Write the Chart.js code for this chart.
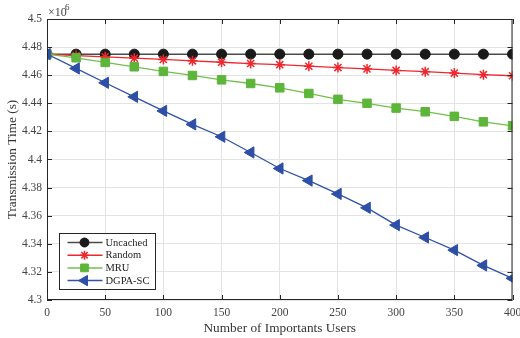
<!DOCTYPE html>
<html>
<head>
<meta charset="utf-8">
<script src="https://cdn.jsdelivr.net/npm/chart.js@4.4.1/dist/chart.umd.min.js"></script>
<style>
  html, body { margin: 0; padding: 0; background: #fff; }
  #wrap { width: 520px; height: 338px; }
</style>
</head>
<body>
<div id="wrap"><canvas id="chart"></canvas></div>
<script>
// data (values in units of 10^6 s)
const users = [0, 25, 50, 75, 100, 125, 150, 175, 200, 225, 250, 275, 300, 325, 350, 375, 400];
const uncached = [4.475, 4.475, 4.475, 4.475, 4.475, 4.475, 4.475, 4.475, 4.475, 4.475, 4.475, 4.475, 4.475, 4.475, 4.475, 4.475, 4.475];
const random = [4.475, 4.4740, 4.4731, 4.4721, 4.4712, 4.4702, 4.4692, 4.4683, 4.4675, 4.4664, 4.4654, 4.4645, 4.4634, 4.4625, 4.4615, 4.4604, 4.4596];
const mru = [4.475, 4.4724, 4.4691, 4.4660, 4.4627, 4.4598, 4.4567, 4.4541, 4.4510, 4.4470, 4.4428, 4.4400, 4.4366, 4.4340, 4.4307, 4.4268, 4.4240];
const dgpa = [4.475, 4.4648, 4.4546, 4.4446, 4.4346, 4.4250, 4.4162, 4.4050, 4.3936, 4.3850, 4.3755, 4.3656, 4.3533, 4.3445, 4.3355, 4.3246, 4.3154];
const xTicks = [0, 50, 100, 150, 200, 250, 300, 350, 400];
const yTicks = [4.3, 4.32, 4.34, 4.36, 4.38, 4.4, 4.42, 4.44, 4.46, 4.48, 4.5];

const serif = '"Liberation Serif", "Times New Roman", serif';

function pts(vals) {
  return users.map((u, i) => ({ x: u, y: vals[i] }));
}

// box, inner ticks, exponent label and legend
const decor = {
  id: 'decor',
  afterDraw(chart) {
    const ctx = chart.ctx;
    const a = chart.chartArea;
    const xs = chart.scales.x, ys = chart.scales.y;
    ctx.save();
    ctx.strokeStyle = '#262626';
    ctx.lineWidth = 1;
    ctx.strokeRect(a.left + 0.5, a.top + 0.5, a.right - a.left - 1, a.bottom - a.top - 1);
    ctx.beginPath();
    xTicks.forEach(t => {
      const px = Math.round(xs.getPixelForValue(t)) + 0.5;
      ctx.moveTo(px, a.bottom); ctx.lineTo(px, a.bottom - 5);
      ctx.moveTo(px, a.top); ctx.lineTo(px, a.top + 5);
    });
    yTicks.forEach(t => {
      const py = Math.round(ys.getPixelForValue(t)) + 0.5;
      ctx.moveTo(a.left, py); ctx.lineTo(a.left + 5, py);
      ctx.moveTo(a.right, py); ctx.lineTo(a.right - 5, py);
    });
    ctx.stroke();

    // x10^6
    ctx.fillStyle = '#444';
    ctx.font = '12px ' + serif;
    ctx.textBaseline = 'alphabetic';
    ctx.fillText('\u00d710', a.left + 1, a.top - 3);
    ctx.font = '9px ' + serif;
    ctx.fillText('6', a.left + 18, a.top - 9);

    // legend
    const lx = 59.5, ly = 233.5, lw = 96, lh = 56;
    ctx.fillStyle = '#fff';
    ctx.fillRect(lx, ly, lw, lh);
    ctx.strokeStyle = '#262626';
    ctx.lineWidth = 1;
    ctx.strokeRect(lx, ly, lw, lh);
    chart.data.datasets.forEach((ds, i) => {
      const y = ly + 9 + i * 12.7;
      ctx.strokeStyle = ds.borderColor;
      ctx.lineWidth = 1.5;
      ctx.beginPath();
      ctx.moveTo(lx + 8, y); ctx.lineTo(lx + 43, y);
      ctx.stroke();
      ctx.fillStyle = ds.pointBackgroundColor;
      ctx.strokeStyle = ds.pointBorderColor;
      ctx.lineWidth = ds.pointBorderWidth;
      Chart.helpers.drawPoint(ctx, {
        pointStyle: ds.pointStyle,
        radius: ds.pointRadius - 0.5,
        rotation: ds.pointRotation || 0,
        borderWidth: ds.pointBorderWidth
      }, lx + 25, y);
      ctx.fillStyle = '#222';
      ctx.font = '10.5px ' + serif;
      ctx.textBaseline = 'middle';
      ctx.fillText(ds.label, lx + 46, y + 0.5);
    });
    ctx.restore();
  }
};

new Chart(document.getElementById('chart'), {
  type: 'line',
  data: {
    datasets: [
      {
        label: 'Uncached', data: pts(uncached), order: 4,
        borderColor: '#4a4a4a', borderWidth: 1.5,
        pointStyle: 'circle', pointRadius: 5,
        pointBackgroundColor: '#1a1a1a', pointBorderColor: '#1a1a1a', pointBorderWidth: 1
      },
      {
        label: 'Random', data: pts(random), order: 3,
        borderColor: '#f0262d', borderWidth: 1.3,
        pointStyle: 'star', pointRadius: 5,
        pointBackgroundColor: '#f0262d', pointBorderColor: '#f0262d', pointBorderWidth: 1.5
      },
      {
        label: 'MRU', data: pts(mru), order: 2,
        borderColor: '#72c04c', borderWidth: 1.3,
        pointStyle: 'rect', pointRadius: 6,
        pointBackgroundColor: '#5db53a', pointBorderColor: '#5db53a', pointBorderWidth: 1
      },
      {
        label: 'DGPA-SC', data: pts(dgpa), order: 1,
        borderColor: '#2f52aa', borderWidth: 1.3,
        pointStyle: 'triangle', pointRotation: -90, pointRadius: 6.5,
        pointBackgroundColor: '#2e4fa6', pointBorderColor: '#2e4fa6', pointBorderWidth: 1
      }
    ]
  },
  options: {
    responsive: true,
    maintainAspectRatio: false,
    animation: false,
    layout: { padding: { top: 19, right: 7, left: 0, bottom: 0 } },
    plugins: { legend: { display: false }, tooltip: { enabled: false } },
    scales: {
      x: {
        type: 'linear', min: 0, max: 400,
        afterBuildTicks: s => { s.ticks = xTicks.map(v => ({ value: v })); },
        afterFit: s => { s.height = 38; s.paddingRight = 0; s.paddingLeft = 0; },
        grid: { color: '#e3e3e3', drawTicks: false },
        border: { display: false },
        ticks: { color: '#444', font: { family: serif, size: 11.5 }, padding: 6, maxRotation: 0 },
        title: { display: true, text: 'Number of Importants Users', color: '#333', font: { family: serif, size: 13.3 }, padding: { top: 0, bottom: 2 } }
      },
      y: {
        min: 4.3, max: 4.5,
        afterBuildTicks: s => { s.ticks = yTicks.map(v => ({ value: v })); },
        afterFit: s => { s.width = 47; s.paddingTop = 0; s.paddingBottom = 0; },
        grid: { color: '#e3e3e3', drawTicks: false },
        border: { display: false },
        ticks: {
          color: '#444', font: { family: serif, size: 11.5 }, padding: 5,
          callback: v => String(parseFloat(v.toFixed(2)))
        },
        title: { display: true, text: 'Transmission Time (s)', color: '#333', font: { family: serif, size: 13.3 }, padding: { top: 5, bottom: 0 } }
      }
    }
  },
  plugins: [decor]
});
</script>
</body>
</html>
